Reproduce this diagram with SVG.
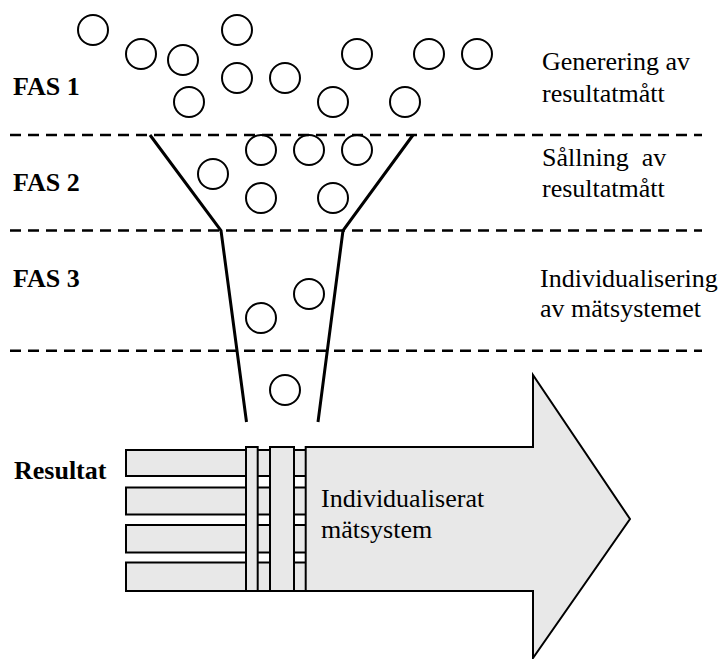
<svg xmlns="http://www.w3.org/2000/svg" width="725" height="659" viewBox="0 0 725 659">
<style>
.lbl{font-family:"Liberation Serif","Times New Roman",serif;font-size:26px;fill:#000}
.b{font-weight:bold}
.dash{stroke:#000;stroke-width:2.6;stroke-dasharray:11 7;fill:none}
.funnel{stroke:#000;stroke-width:3;fill:none;stroke-linejoin:miter}
.c{fill:none;stroke:#000;stroke-width:2}
.g{fill:#e8e8e8;stroke:#000;stroke-width:2}
</style>
<rect width="725" height="659" fill="#fff"/>
<g id="phase-lines">
<line class="dash" x1="10" y1="135" x2="702" y2="135"/>
<line class="dash" x1="10" y1="230.5" x2="702" y2="230.5"/>
<line class="dash" x1="10" y1="350.7" x2="702" y2="350.7"/>
</g>
<g id="labels">
<text class="lbl b" x="13" y="95">FAS 1</text>
<text class="lbl b" x="13" y="191">FAS 2</text>
<text class="lbl b" x="13" y="287">FAS 3</text>
<text class="lbl b" x="14" y="479">Resultat</text>
<text class="lbl" x="542" y="70">Generering av</text>
<text class="lbl" x="542" y="101.7">resultatmått</text>
<text class="lbl" x="542" y="165.7" xml:space="preserve">Sållning  av</text>
<text class="lbl" x="542" y="196.7">resultatmått</text>
<text class="lbl" x="540" y="287">Individualisering</text>
<text class="lbl" x="540" y="317">av mätsystemet</text>
</g>
<g id="funnel">
<polyline class="funnel" points="150,135 221,230.5 246.5,422"/>
<polyline class="funnel" points="413,135 343,230.5 318,422"/>
</g>
<g id="balls">
<circle class="c" cx="93" cy="30" r="15"/>
<circle class="c" cx="141" cy="54" r="15"/>
<circle class="c" cx="183" cy="60" r="15"/>
<circle class="c" cx="237" cy="30" r="15"/>
<circle class="c" cx="237" cy="78" r="15"/>
<circle class="c" cx="285" cy="78" r="15"/>
<circle class="c" cx="189" cy="102" r="15"/>
<circle class="c" cx="333" cy="102" r="15"/>
<circle class="c" cx="357" cy="54" r="15"/>
<circle class="c" cx="429" cy="54" r="15"/>
<circle class="c" cx="477" cy="54" r="15"/>
<circle class="c" cx="405" cy="102" r="15"/>
<circle class="c" cx="261" cy="150" r="15"/>
<circle class="c" cx="309" cy="150" r="15"/>
<circle class="c" cx="357" cy="150" r="15"/>
<circle class="c" cx="213" cy="174" r="15"/>
<circle class="c" cx="261" cy="198" r="15"/>
<circle class="c" cx="333" cy="198" r="15"/>
<circle class="c" cx="309" cy="294" r="15"/>
<circle class="c" cx="261" cy="318" r="15"/>
<circle class="c" cx="285" cy="390" r="15"/>
</g>
<g id="result-arrow">
<rect class="g" x="126" y="450" width="180" height="26"/>
<rect class="g" x="126" y="487.5" width="180" height="27"/>
<rect class="g" x="126" y="525" width="180" height="27.5"/>
<rect class="g" x="126" y="562.5" width="180" height="28.5"/>
<rect class="g" x="246" y="447" width="11.7" height="144"/>
<rect class="g" x="270" y="447" width="24" height="144"/>
<polygon class="g" points="305.7,447 533,447 533,375 630,519 533,658 533,591 305.7,591"/>
<text class="lbl" x="321" y="507">Individualiserat</text>
<text class="lbl" x="321" y="538">mätsystem</text>
</g>
</svg>
